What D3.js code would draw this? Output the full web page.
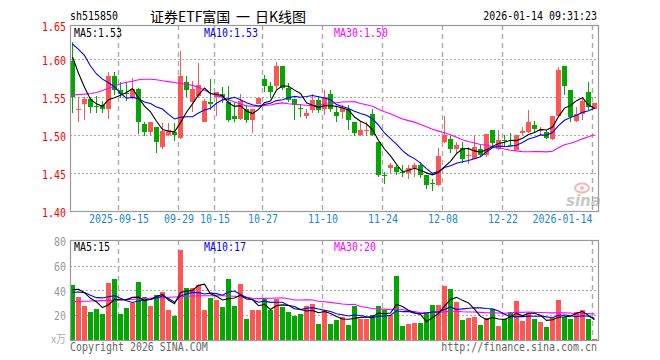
<!DOCTYPE html>
<html><head><meta charset="utf-8">
<script src="https://cdn.jsdelivr.net/npm/d3@7"></script>
<style>body{margin:0;background:#fff}svg{display:block}</style>
</head><body><svg id="c" width="660" height="360"></svg>
<script>
const dates = ["2025-09-03","2025-09-04","2025-09-05","2025-09-08","2025-09-09","2025-09-10","2025-09-11","2025-09-12","2025-09-15","2025-09-16",
"2025-09-17","2025-09-18","2025-09-19","2025-09-22","2025-09-23","2025-09-24","2025-09-25","2025-09-26","2025-09-29","2025-09-30",
"2025-10-09","2025-10-10","2025-10-13","2025-10-14","2025-10-15","2025-10-16","2025-10-17","2025-10-20","2025-10-21","2025-10-22",
"2025-10-23","2025-10-24","2025-10-27","2025-10-28","2025-10-29","2025-10-30","2025-10-31","2025-11-03","2025-11-04","2025-11-05",
"2025-11-06","2025-11-07","2025-11-10","2025-11-11","2025-11-12","2025-11-13","2025-11-14","2025-11-17","2025-11-18","2025-11-19",
"2025-11-20","2025-11-21","2025-11-24","2025-11-25","2025-11-26","2025-11-27","2025-11-28","2025-12-01","2025-12-02","2025-12-03",
"2025-12-04","2025-12-05","2025-12-08","2025-12-09","2025-12-10","2025-12-11","2025-12-12","2025-12-15","2025-12-16","2025-12-17",
"2025-12-18","2025-12-19","2025-12-22","2025-12-23","2025-12-24","2025-12-25","2025-12-26","2025-12-29","2025-12-30","2025-12-31",
"2026-01-05","2026-01-06","2026-01-07","2026-01-08","2026-01-09","2026-01-12","2026-01-13","2026-01-14"];

const open = [1.5982,1.5335,1.5411,1.5473,1.5380,1.5394,1.5341,1.5780,1.5596,1.5552,
1.5499,1.5605,1.5148,1.5047,1.5104,1.4849,1.5003,1.5042,1.4955,1.5701,
1.5438,1.5517,1.5174,1.5438,1.5499,1.5543,1.5438,1.5245,1.5218,1.5341,
1.5200,1.5403,1.5745,1.5653,1.5640,1.5912,1.5618,1.5473,1.5355,1.5253,
1.5324,1.5464,1.5341,1.5543,1.5306,1.5306,1.5350,1.5174,1.5003,1.5064,
1.5278,1.4909,1.4478,1.4568,1.4586,1.4509,1.4496,1.4567,1.4612,1.4480,
1.4375,1.4347,1.4909,1.4944,1.4812,1.4830,1.4729,1.4690,1.4821,1.4734,
1.5069,1.4823,1.4940,1.4869,1.4805,1.5025,1.5043,1.5130,1.5058,1.5043,
1.4946,1.5253,1.5912,1.5596,1.5192,1.5280,1.5561,1.5350];

const high = [1.6220,1.5499,1.5499,1.5508,1.5510,1.5446,1.5833,1.5833,1.5693,1.5693,
1.5754,1.5622,1.5174,1.5178,1.5104,1.5157,1.5157,1.5161,1.6110,1.5780,
1.5710,1.5947,1.5473,1.5736,1.5570,1.5627,1.5640,1.5438,1.5543,1.5394,
1.5350,1.5508,1.5790,1.5701,1.5965,1.5912,1.5684,1.5473,1.5411,1.5349,
1.5543,1.5517,1.5596,1.5596,1.5376,1.5394,1.5394,1.5174,1.5166,1.5174,
1.5349,1.4909,1.4513,1.4637,1.4612,1.4602,1.4602,1.4630,1.4646,1.4480,
1.4426,1.4830,1.5252,1.4988,1.4909,1.4909,1.4848,1.4997,1.4865,1.5015,
1.5069,1.5069,1.4999,1.5025,1.5007,1.5104,1.5332,1.5192,1.5104,1.5069,
1.5253,1.5895,1.5912,1.5596,1.5376,1.5473,1.5701,1.5429];

const low = [1.5297,1.5166,1.5201,1.5289,1.5297,1.5297,1.5218,1.5530,1.5482,1.5455,
1.5473,1.5016,1.4993,1.4993,1.4770,1.4823,1.4993,1.4928,1.4950,1.5499,
1.5306,1.5482,1.5166,1.5324,1.5245,1.5420,1.5166,1.5166,1.5200,1.5157,
1.5032,1.5403,1.5561,1.5482,1.5596,1.5596,1.5438,1.5200,1.5236,1.5218,
1.5297,1.5297,1.5266,1.5306,1.5166,1.5209,1.5069,1.4988,1.4984,1.4984,
1.4984,1.4452,1.4355,1.4505,1.4480,1.4452,1.4417,1.4452,1.4435,1.4294,
1.4268,1.4329,1.4900,1.4769,1.4769,1.4637,1.4619,1.4681,1.4707,1.4707,
1.4858,1.4805,1.4858,1.4858,1.4800,1.4999,1.5025,1.5025,1.5007,1.4946,
1.4937,1.5245,1.5530,1.5166,1.5166,1.5201,1.5332,1.5341];

const close = [1.5499,1.5345,1.5473,1.5376,1.5365,1.5341,1.5780,1.5596,1.5543,1.5543,
1.5605,1.5166,1.5047,1.5174,1.4915,1.5060,1.5069,1.4998,1.5780,1.5596,
1.5609,1.5662,1.5451,1.5403,1.5561,1.5508,1.5200,1.5218,1.5455,1.5200,
1.5341,1.5482,1.5653,1.5574,1.5912,1.5618,1.5464,1.5394,1.5350,1.5297,
1.5464,1.5324,1.5499,1.5350,1.5253,1.5358,1.5200,1.5032,1.5069,1.5069,
1.4997,1.4474,1.4474,1.4612,1.4520,1.4505,1.4567,1.4612,1.4480,1.4347,
1.4373,1.4725,1.4997,1.4821,1.4865,1.4690,1.4734,1.4848,1.4742,1.5015,
1.4902,1.4937,1.4935,1.4865,1.4999,1.5060,1.5174,1.5078,1.5062,1.4964,
1.5253,1.5859,1.5640,1.5236,1.5280,1.5447,1.5376,1.5429];

const volume = [44.5,34.8,27.5,22.6,25.1,21.0,46.1,49.3,21.0,25.9,
29.9,46.9,34.8,27.5,36.4,38.8,24.3,19.4,72.8,42.0,
42.0,44.5,24.3,34.0,32.3,26.7,49.3,27.5,45.3,17.0,
24.3,24.3,33.2,24.3,33.2,26.7,22.6,19.4,21.0,27.5,
29.1,12.9,24.3,12.9,16.2,18.6,12.1,27.5,17.0,17.0,
20.2,27.5,24.3,20.2,51.8,11.3,12.9,13.7,13.7,22.6,
28.3,28.3,43.7,41.2,30.7,16.2,17.8,18.6,12.1,17.8,
25.1,11.3,17.0,22.6,31.5,15.4,21.8,17.0,14.6,10.5,
17.8,32.3,18.6,17.0,22.6,24.3,17.0,0.8];

// moving-average values before a full window is available
const ma5Head = [1.603,1.5815,1.563,1.547];
const ma10Head = [1.620,1.613,1.605,1.591,1.5805,1.5737,1.569,1.5635,1.555];
const ma30Head = [1.553,1.5534,1.5539,1.5548,1.5561,1.5587,1.5618,1.5644,1.5675,1.5697,
1.571,1.5728,1.5736,1.5736,1.5728,1.5715,1.5704,1.5693,1.568,1.567,
1.5655,1.563,1.559,1.5555,1.552,1.5495,1.5465,1.5435,1.541];
const volMa5Head = [40.7,41.0,38.3,33.7];
const volMa10Head = [38.5,38.8,38.3,36.1,34.2,34.0,35.0,35.8,33.7];
const volMa30Head = [31.0,31.1,31.3,31.5,31.6,31.8,32.0,32.1,32.3,32.6,
32.9,33.1,33.4,33.7,34.0,34.2,34.5,34.7,35.0,35.3,
35.6,35.7,35.8,35.8,35.8,35.7,35.6,35.3,35.0];

const priceTicks = [1.40,1.45,1.50,1.55,1.60,1.65];
const priceGrid = [1.45,1.50,1.55,1.60];
const volTicks = [20,40,60,80];
const volGrid = [20,40,60];
const dateTicks = ["2025-09-15","2025-09-29","2025-10-15","2025-10-27","2025-11-10","2025-11-24","2025-12-08","2025-12-22","2026-01-14"];
const dateTickLabels = ["2025-09-15","09-29","10-15","10-27","11-10","11-24","12-08","12-22","2026-01-14"];
const priceMaLabels = ["MA5:1.53","MA10:1.53","MA30:1.50"];
const volMaLabels = ["MA5:15","MA10:17","MA30:20"];

// ---------- drawing ----------
const L=70, R=598, PT=25, PB=211, VT=240, VB=340;
const UP="#ff5555", DN="#00a800", FRAME="#999", GRID="#aaa";
const MA_COL = ["#000000","#0000ff","#ff00ff"];
const FONT="'DejaVu Sans Mono', monospace";
const SX=0.83;
const svg=d3.select("#c");

const x=d3.scaleBand().domain(dates).range([L,R]).paddingInner(0).paddingOuter(0);
const y=d3.scaleLinear().domain([1.40,1.645]).range([PB,PT]).clamp(true);
const yv=d3.scaleLinear().domain([0,80.8]).range([VB,VT]);
const bw = x.bandwidth()-1;

function label(g, px, py, s, fill, anchor="start", size=12, family=FONT, sx=SX){
  return g.append("text").attr("transform",`translate(${px},${py}) scale(${sx},1)`)
    .attr("text-anchor",anchor).attr("dominant-baseline","central").style("white-space","pre")
    .attr("font-family",family).attr("font-size",size).attr("fill",fill).text(s);
}

// grids
const grid=svg.append("g");
priceGrid.forEach(v=>grid.append("line").attr("x1",L).attr("x2",R)
  .attr("y1",Math.round(y(v))+0.5).attr("y2",Math.round(y(v))+0.5)
  .attr("stroke",GRID).attr("stroke-dasharray","2,2"));
volGrid.forEach(v=>grid.append("line").attr("x1",L).attr("x2",R)
  .attr("y1",Math.round(yv(v))+0.5).attr("y2",Math.round(yv(v))+0.5)
  .attr("stroke",GRID).attr("stroke-dasharray","2,2"));
dateTicks.forEach(d=>{
  [[PT,PB],[VT,VB]].forEach(([a,b])=>grid.append("line").attr("x1",x(d)+0.5).attr("x2",x(d)+0.5)
    .attr("y1",a).attr("y2",b).attr("stroke","#aaa").attr("stroke-width",1.4).attr("stroke-dasharray","5,4"));
});

// watermark
const wm=svg.append("g").attr("opacity",0.4);
wm.append("ellipse").attr("cx",582).attr("cy",188).attr("rx",7).attr("ry",4.5).attr("fill","none").attr("stroke","#e05050").attr("stroke-width",2);
wm.append("circle").attr("cx",582).attr("cy",188).attr("r",2).attr("fill","#e05050");
wm.append("text").attr("x",566).attr("y",206).attr("font-family","DejaVu Sans").attr("font-weight","bold")
  .attr("font-style","italic").attr("font-size",15).attr("fill","#777").text("sina");

// candles
const cg=svg.append("g").attr("shape-rendering","crispEdges");
dates.forEach((d,i)=>{
  const col = close[i]>=open[i]?UP:DN;
  cg.append("line").attr("x1",x(d)+2.5).attr("x2",x(d)+2.5)
    .attr("y1",y(high[i])).attr("y2",y(low[i])).attr("stroke",col);
  const top=y(Math.max(open[i],close[i])), bot=y(Math.min(open[i],close[i]));
  cg.append("rect").attr("x",x(d)).attr("width",bw).attr("y",top)
    .attr("height",Math.max(1,bot-top)).attr("fill",col);
});

// volume bars
const vg=svg.append("g").attr("shape-rendering","crispEdges");
dates.forEach((d,i)=>{
  const col = close[i]>=open[i]?UP:DN;
  vg.append("rect").attr("x",x(d)).attr("width",bw).attr("y",yv(volume[i]))
    .attr("height",Math.max(1,VB-yv(volume[i]))).attr("fill",col);
});

// moving averages
function ma(arr,n,head){return arr.map((v,i)=> i<n-1 ? head[i] : d3.mean(arr.slice(i-n+1,i+1)));}
const pMA=[ma(close,5,ma5Head),ma(close,10,ma10Head),ma(close,30,ma30Head)];
const vMA=[ma(volume,5,volMa5Head),ma(volume,10,volMa10Head),ma(volume,30,volMa30Head)];
const lineP=d3.line().x((v,i)=>x(dates[i])+2.5).y(v=>y(v));
const lineV=d3.line().x((v,i)=>x(dates[i])+2.5).y(v=>yv(v));
[2,1,0].forEach(k=>{
  svg.append("path").attr("d",lineP(pMA[k])).attr("fill","none").attr("stroke",MA_COL[k]).attr("stroke-width",1.1);
  svg.append("path").attr("d",lineV(vMA[k])).attr("fill","none").attr("stroke",MA_COL[k]).attr("stroke-width",1.1);
});

// frames
svg.append("rect").attr("x",L+0.5).attr("y",PT+0.5).attr("width",R-L).attr("height",PB-PT)
  .attr("fill","none").attr("stroke",FRAME).attr("stroke-width",1.2);
svg.append("rect").attr("x",L+0.5).attr("y",VT+0.5).attr("width",R-L).attr("height",VB-VT)
  .attr("fill","none").attr("stroke",FRAME).attr("stroke-width",1.2);

// axes
const ya=svg.append("g").attr("transform",`translate(${L},0)`)
  .call(d3.axisLeft(y).tickValues(priceTicks).tickFormat(d3.format(".2f")).tickSize(0).tickPadding(4/SX));
ya.select(".domain").remove();
ya.selectAll("text").attr("transform",`scale(${SX},1)`).attr("fill","#ff0000")
  .attr("font-family",FONT).attr("font-size",12).attr("dy","0.42em");

const va=svg.append("g").attr("transform",`translate(${L},0)`)
  .call(d3.axisLeft(yv).tickValues(volTicks).tickSize(0).tickPadding(4/SX));
va.select(".domain").remove();
va.selectAll("text").attr("transform",`scale(${SX},1)`).attr("fill","#999")
  .attr("font-family",FONT).attr("font-size",12).attr("dy","0.38em");

const xa=svg.append("g").attr("transform",`translate(0,${PB})`)
  .call(d3.axisBottom(x).tickValues(dateTicks).tickFormat((d,i)=>dateTickLabels[i]).tickSize(0).tickPadding(3));
xa.select(".domain").remove();
xa.selectAll("text").attr("transform",`scale(${SX},1)`).attr("fill","#2288cc")
  .attr("font-family",FONT).attr("font-size",12)
  .attr("x",(d,i)=> i===dateTicks.length-1 ? (-bw/2)/SX : (-bw/2+0.5)/SX)
  .attr("text-anchor",(d,i)=> i===dateTicks.length-1 ? "end":"middle");

// labels
const tg=svg.append("g");
label(tg,70,16,"sh515850","#000");
label(tg,150,16,"证券ETF富国","#000","start",14,"'Noto Sans CJK SC'",1);
label(tg,236,16,"一","#000","start",14,"'Noto Sans CJK SC'",1);
label(tg,255,16,"日K线图","#000","start",14,"'Noto Sans CJK SC'",1);
label(tg,597,16,"2026-01-14 09:31:23","#000","end");
label(tg,74,33,priceMaLabels[0],MA_COL[0]);
label(tg,204,33,priceMaLabels[1],MA_COL[1]);
label(tg,334,33,priceMaLabels[2],MA_COL[2]);
label(tg,74,247,volMaLabels[0],MA_COL[0]);
label(tg,204,247,volMaLabels[1],MA_COL[1]);
label(tg,334,247,volMaLabels[2],MA_COL[2]);
label(tg,66,338,"x万","#aaa","end",11,"'Noto Sans CJK SC'",0.9);
label(tg,70,347,"Copyright 2026 SINA.COM","#666");
label(tg,597,347,"http://finance.sina.com.cn","#666","end");
</script></body></html>
